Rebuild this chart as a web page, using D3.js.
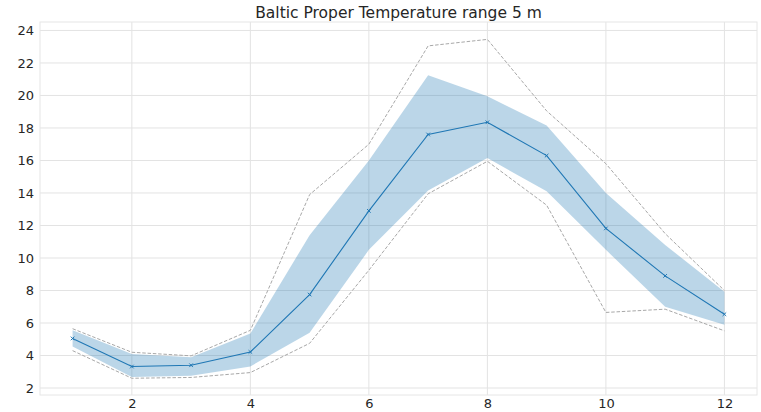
<!DOCTYPE html>
<html>
<head>
<meta charset="utf-8">
<script src="https://cdn.jsdelivr.net/npm/d3@7"></script>
<style>
  body { margin: 0; background: #fff; }
  text { font-family: "DejaVu Sans", sans-serif; }
</style>
</head>
<body>
<div id="main"></div>
<script>
// monthly values
var months = [1, 2, 3, 4, 5, 6, 7, 8, 9, 10, 11, 12];
var meanT = [5.05, 3.32, 3.4, 4.22, 7.75, 12.9, 17.6, 18.35, 16.3, 11.82, 8.9, 6.54];
var bandHigh = [5.55, 4.1, 3.9, 5.35, 11.4, 16.0, 21.25, 19.95, 18.15, 14.0, 10.8, 7.93];
var bandLow = [4.55, 2.67, 2.75, 3.33, 5.4, 10.5, 14.15, 16.15, 14.1, 10.5, 7.0, 5.9];
var maxT = [5.65, 4.2, 3.98, 5.55, 13.9, 17.0, 23.05, 23.45, 19.05, 15.8, 11.5, 8.0];
var minT = [4.3, 2.6, 2.65, 2.95, 4.75, 9.25, 13.95, 15.95, 13.25, 6.65, 6.85, 5.52];
var xTicks = [2, 4, 6, 8, 10, 12];
var yTicks = [2, 4, 6, 8, 10, 12, 14, 16, 18, 20, 22, 24];
var title = 'Baltic Proper Temperature range 5 m';

var W = 761, H = 412;
var m = { left: 40, right: 4, top: 22, bottom: 17 };

var svg = d3.select('#main').append('svg').attr('width', W).attr('height', H);

var x = d3.scaleLinear().domain([0.45, 12.55]).range([m.left, W - m.right]);
var y = d3.scaleLinear().domain([1.57, 24.52]).range([H - m.bottom, m.top]);

// grid
var grid = svg.append('g');
grid.selectAll('line.gx').data(xTicks).enter().append('line')
    .attr('x1', d => x(d)).attr('x2', d => x(d))
    .attr('y1', m.top).attr('y2', H - m.bottom)
    .attr('stroke', '#e3e3e3').attr('stroke-width', 1);
grid.selectAll('line.gy').data(yTicks).enter().append('line')
    .attr('x1', m.left).attr('x2', W - m.right)
    .attr('y1', d => y(d)).attr('y2', d => y(d))
    .attr('stroke', '#e3e3e3').attr('stroke-width', 1);

// frame
svg.append('rect')
    .attr('x', m.left).attr('y', m.top)
    .attr('width', W - m.left - m.right).attr('height', H - m.top - m.bottom)
    .attr('fill', 'none').attr('stroke', '#e6e6e6').attr('stroke-width', 1);

// band
var area = d3.area()
    .x((d, i) => x(months[i]))
    .y0((d, i) => y(bandLow[i]))
    .y1((d, i) => y(bandHigh[i]));
svg.append('path').datum(months).attr('d', area)
    .attr('fill', '#1f77b4').attr('fill-opacity', 0.3);

// min / max dashed
var line = d3.line().x((d, i) => x(months[i])).y(d => y(d));
[maxT, minT].forEach(function (s) {
    svg.append('path').datum(s).attr('d', line)
        .attr('fill', 'none').attr('stroke', '#a8a8a8')
        .attr('stroke-width', 1).attr('stroke-dasharray', '3.5,1.8');
});

// mean
svg.append('path').datum(meanT).attr('d', line)
    .attr('fill', 'none').attr('stroke', '#1f77b4').attr('stroke-width', 1.1);
svg.append('g').selectAll('path').data(meanT).enter().append('path')
    .attr('transform', (d, i) => 'translate(' + x(months[i]) + ',' + y(d) + ')')
    .attr('d', 'M-1.8,-1.8L1.8,1.8M-1.8,1.8L1.8,-1.8')
    .attr('stroke', '#1f77b4').attr('stroke-width', 1);

// axes
var xAxis = svg.append('g').attr('transform', 'translate(0,' + (H - m.bottom) + ')')
    .call(d3.axisBottom(x).tickValues(xTicks).tickSize(0).tickPadding(3.5));
var yAxis = svg.append('g').attr('transform', 'translate(' + m.left + ',0)')
    .call(d3.axisLeft(y).tickValues(yTicks).tickSize(0).tickPadding(6));
[xAxis, yAxis].forEach(function (a) {
    a.select('.domain').remove();
    a.selectAll('text').attr('fill', '#262626').style('font-size', '13px')
        .style('font-family', '"DejaVu Sans", sans-serif');
});

svg.append('text')
    .attr('x', (m.left + W - m.right) / 2).attr('y', 18)
    .attr('text-anchor', 'middle')
    .attr('fill', '#262626').style('font-size', '15.5px')
    .text(title);
</script>
</body>
</html>
